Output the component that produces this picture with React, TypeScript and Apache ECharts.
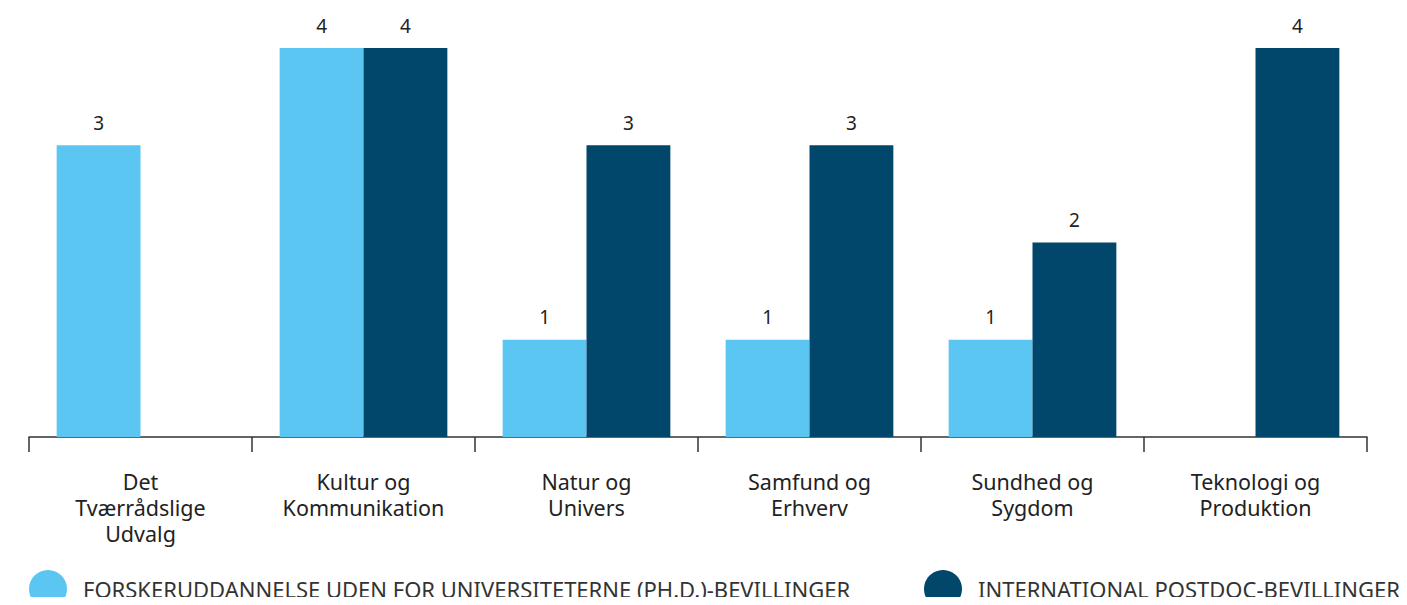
import React, { useEffect, useRef } from "react";
import * as echarts from "echarts";

const categories = [
  "Det\nTværrådslige\nUdvalg",
  "Kultur og\nKommunikation",
  "Natur og\nUnivers",
  "Samfund og\nErhverv",
  "Sundhed og\nSygdom",
  "Teknologi og\nProduktion",
];
const seriesNames = [
  "FORSKERUDDANNELSE UDEN FOR UNIVERSITETERNE (PH.D.)-BEVILLINGER",
  "INTERNATIONAL POSTDOC-BEVILLINGER",
];
const phdValues: (number | null)[] = [3, 4, 1, 1, 1, null];
const postdocValues: (number | null)[] = [null, 4, 3, 3, 2, 4];

const FONT = "Noto Sans";

export default function App() {
  const ref = useRef<HTMLDivElement>(null);
  useEffect(() => {
    if (!ref.current) return;
    const chart = echarts.init(ref.current, null, { renderer: "svg" });
    const labelCfg = {
      show: true,
      position: "top",
      distance: 13,
      color: "#222",
      fontSize: 19,
      fontFamily: FONT,
    };
    const legendBase = {
      top: 570,
      padding: 0,
      icon: "circle",
      itemWidth: 38,
      itemHeight: 38,
      textStyle: {
        fontSize: 22,
        color: "#333",
        fontFamily: FONT,
        padding: [0, 0, 0, 11],
      },
      selectedMode: false,
    };
    chart.setOption({
      animation: false,
      textStyle: { fontFamily: FONT },
      grid: { left: 29, right: 40, top: 48, bottom: 168 },
      legend: [
        { ...legendBase, data: [seriesNames[0]], left: 29 },
        { ...legendBase, data: [seriesNames[1]], left: 924 },
      ],
      xAxis: {
        type: "category",
        data: categories,
        axisLine: { show: true, lineStyle: { color: "#333", width: 1.5 } },
        axisTick: { show: true, length: 15, lineStyle: { color: "#333", width: 1.5 } },
        axisLabel: {
          color: "#222",
          fontSize: 21.5,
          lineHeight: 26,
          margin: 31,
          fontFamily: FONT,
        },
      },
      yAxis: {
        type: "value",
        min: 0,
        max: 4,
        show: false,
        splitLine: { show: false },
      },
      series: [
        {
          name: seriesNames[0],
          type: "bar",
          data: phdValues,
          barWidth: "37.6%",
          barGap: "0%",
          itemStyle: { color: "#5BC6F2" },
          label: labelCfg,
        },
        {
          name: seriesNames[1],
          type: "bar",
          data: postdocValues,
          barWidth: "37.6%",
          barGap: "0%",
          itemStyle: { color: "#00476B" },
          label: labelCfg,
        },
      ],
    });
    return () => chart.dispose();
  }, []);
  return <div ref={ref} style={{ width: 1407, height: 605, margin: -8 }} />;
}
